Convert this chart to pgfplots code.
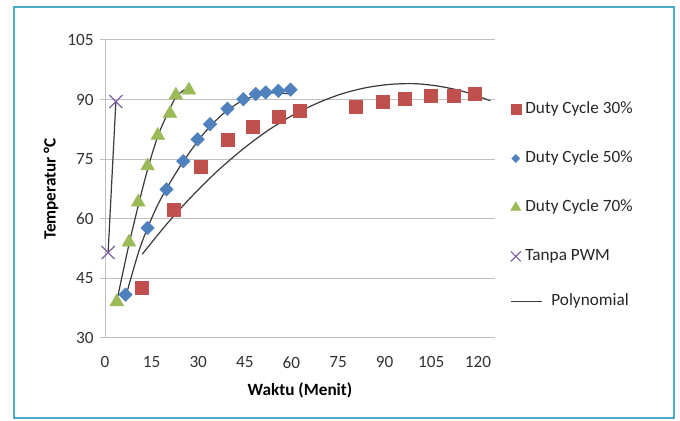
\documentclass[border=0pt]{standalone}
\usepackage{pgfplots}
\pgfplotsset{compat=1.18}
\usepackage{fontspec}
\setmainfont{Carlito}
\definecolor{frameblue}{HTML}{4BACC6}
\definecolor{dcA}{HTML}{C0504D}
\definecolor{dcB}{HTML}{4F81BD}
\definecolor{dcC}{HTML}{9BBB59}
\definecolor{npwm}{HTML}{8064A2}
\definecolor{trend}{HTML}{3A3A3A}
\definecolor{gridgray}{HTML}{BFBFBF}
\newcommand{\chartfont}{\fontsize{17.2bp}{20bp}\selectfont}
\pgfplotsset{
  markleg/.style={legend image code/.code={%
    \draw[##1, mark size=#1] plot coordinates {(5bp,0bp)};
    \path (0bp,0bp) (10bp,0bp);}},
  lineleg/.style={legend image code/.code={%
    \draw[##1, overlay] (0bp,4bp) -- (31bp,4bp);
    \path (0bp,0bp) (10bp,0bp);}},
}

\begin{document}
\begin{tikzpicture}
\useasboundingbox (0,0) rectangle (680bp,421bp);
\fill[white] (0,0) rectangle (680bp,421bp);
\draw[frameblue, line width=2.7bp] (14bp,3bp) rectangle (674bp,414bp);
\begin{axis}[
  at={(105bp,83bp)}, anchor=south west,
  scale only axis, width=390bp, height=298bp,
  xmin=0, xmax=125.5, ymin=30, ymax=105,
  xtick={0,15,...,120}, ytick={30,45,...,105},
  axis x line*=bottom, axis y line*=left,
  axis line style={draw=gridgray, line width=1bp, -},
  ymajorgrids, grid style={draw=gridgray, line width=1bp},
  major tick length=5bp, tick align=outside,
  xtick style={draw=none},
  ytick style={draw=gridgray, line width=1bp},
  /pgf/number format/assume math mode=true,
  tick label style={font=\chartfont, text=black!80},
  xticklabel style={yshift=-10bp},
  yticklabel style={xshift=-3bp},
  xlabel={Waktu (Menit)}, ylabel={Temperatur °C},
  label style={font=\chartfont\bfseries, text=black},
  xlabel style={at={(axis description cs:0.5,0)}, anchor=center, yshift=-52bp},
  ylabel style={at={(axis description cs:-0.1385,0.5)}, anchor=center},
  legend style={at={(axis description cs:1.0385,0.7936)}, anchor=north west,
    draw=none, fill=none, inner sep=0pt, row sep=33.5bp, column sep=4bp,
    font=\chartfont, text=black!85, cells={anchor=west},
    nodes={inner sep=0pt, text height=12bp, text depth=3.5bp}},
]
% measured series
\addplot[only marks, mark=square*, mark size=6.5bp, color=dcA, markleg=5bp]
  coordinates {(11.8,42.7) (22.2,62.2) (30.9,73.0) (39.5,80.0) (47.4,83.3)
  (55.8,85.6) (62.7,87.3) (80.8,88.3) (89.5,89.4) (96.6,90.3) (104.8,90.9)
  (112.1,90.9) (119.0,91.5)};
\addlegendentry{Duty Cycle 30\%}
\addplot[only marks, mark=square*, mark size=4.8bp, mark options={rotate=45}, color=dcB, markleg=2.9bp]
  coordinates {(6.6,40.9) (13.7,57.7) (19.8,67.4) (25.2,74.5) (29.8,80.0)
  (33.8,83.8) (39.4,87.7) (44.5,90.1) (48.5,91.4) (51.7,91.8) (55.8,92.2)
  (59.7,92.5)};
\addlegendentry{Duty Cycle 50\%}
\addplot[only marks, mark=triangle*, mark size=8bp, color=dcC, markleg=5.8bp]
  coordinates {(3.8,39.1) (7.7,54.1) (10.7,64.2) (13.7,73.3) (17.0,81.0)
  (20.9,86.5) (22.8,91.1) (27.0,92.4)};
\addlegendentry{Duty Cycle 70\%}
\addplot[only marks, mark=x, mark size=9.2bp, color=npwm, mark options={line width=1.2bp}, markleg=7bp]
  coordinates {(1.0,51.5) (3.5,89.5)};
\addlegendentry{Tanpa PWM}
% polynomial trendlines
\addplot[trend, line width=1.2bp, smooth, lineleg]
  coordinates {(12,51.1) (20,58.8) (28,65.7) (36,71.9) (44,77.3) (52,82.0)
  (60,85.9) (68,89.0) (76,91.4) (84,93.0) (92,93.85) (100,94.0) (108,93.3)
  (116,91.9) (124,89.7)};
\addlegendentry{\raisebox{4bp}{\hspace*{26bp}Polynomial}}
\addplot[trend, line width=1.2bp, smooth, forget plot]
  coordinates {(6.6,40.2) (11.3,52.8) (16.6,62.9) (22.0,70.5) (27.3,76.8)
  (32.7,82.3) (38.1,86.5) (43.4,89.4) (48.8,91.1) (54.2,91.7) (60.1,91.4)};
\addplot[trend, line width=1.2bp, smooth, forget plot]
  coordinates {(3.8,39.3) (7.5,52.8) (10.7,63.3) (13.9,73.0) (17.1,81.0)
  (20.4,86.9) (23.1,90.9) (27.0,93.2)};
\addplot[trend, line width=1.2bp, forget plot]
  coordinates {(1.0,51.5) (3.5,89.5)};
\end{axis}
\end{tikzpicture}
\end{document}
